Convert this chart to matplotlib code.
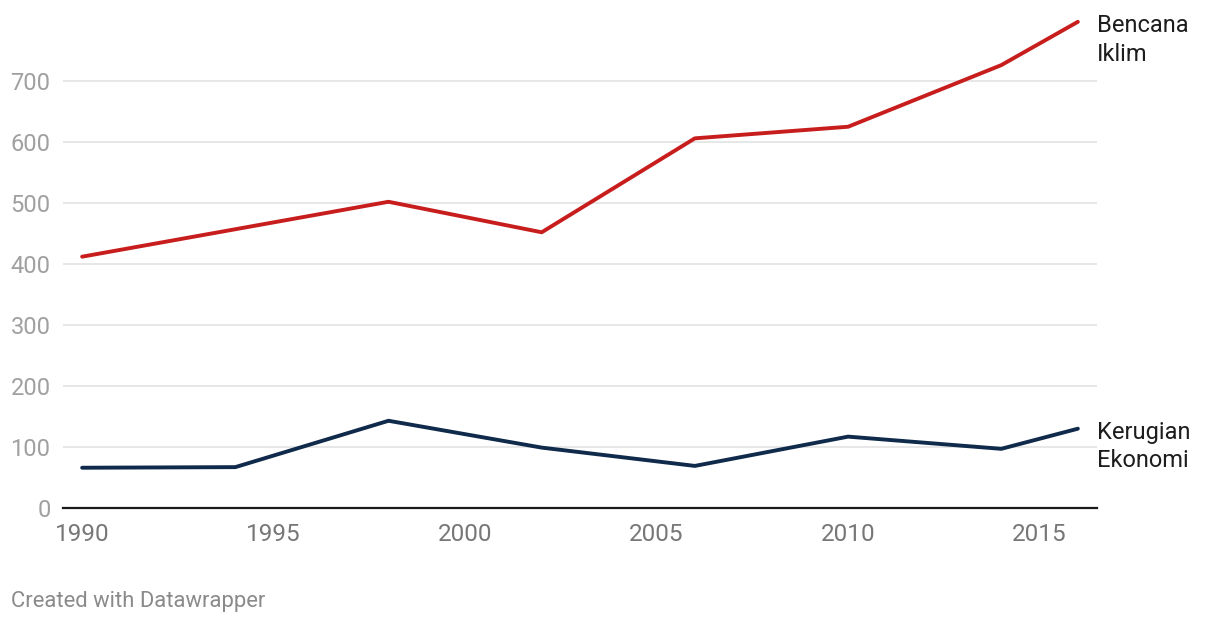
import matplotlib.pyplot as plt
import matplotlib.ticker as mticker

plt.rcParams['font.family'] = ['Roboto', 'DejaVu Sans']

# data
years = [1990, 1994, 1998, 2002, 2006, 2010, 2014, 2016]
bencana = [412, 457, 502, 452, 606, 625, 726, 797]
kerugian = [66, 67, 143, 99, 69, 117, 97, 130]
series_names = ['Bencana\nIklim', 'Kerugian\nEkonomi']
xticks = [1990, 1995, 2000, 2005, 2010, 2015]
yticks = [0, 100, 200, 300, 400, 500, 600, 700]

red = '#c71e1d'
navy = '#0f2a4a'

fig = plt.figure(figsize=(12.2, 6.24), dpi=100)
ax = fig.add_axes([63/1220, 116/624, 1034/1220, 493/624])

ax.plot(years, bencana, color=red, lw=2.8, solid_capstyle='round', zorder=3)
ax.plot(years, kerugian, color=navy, lw=2.8, solid_capstyle='round', zorder=3)

ax.set_xlim(1989.5, 2016.5)
ax.set_ylim(0, 493/0.61)

ax.set_yticks(yticks)
ax.set_xticks(xticks)
ax.yaxis.set_major_formatter(mticker.FuncFormatter(lambda v, p: f'{int(v)}'))
ax.grid(axis='y', color='#e3e3e3', lw=1.2, zorder=0)
ax.tick_params(axis='y', length=0, pad=9, labelsize=17, labelcolor='#a0a0a0')
ax.tick_params(axis='x', length=0, pad=11, labelsize=17.5, labelcolor='#777777')

for s in ['top', 'right', 'left']:
    ax.spines[s].set_visible(False)
ax.spines['bottom'].set_color('#1a1a1a')
ax.spines['bottom'].set_linewidth(1.6)
ax.spines['bottom'].set_zorder(4)

for name, vals in zip(series_names, [bencana, kerugian]):
    ax.annotate(name, xy=(years[-1], vals[-1]), xytext=(13.5, -13),
                textcoords='offset points', va='center', ha='left',
                fontsize=17, color='#1d1d1d', linespacing=1.3,
                annotation_clip=False)

fig.text(11/1220, 1 - 607/624, 'Created with Datawrapper', fontsize=15.8,
         color='#8a8a8a', ha='left', va='baseline')

fig.savefig('out.png', dpi=100)
